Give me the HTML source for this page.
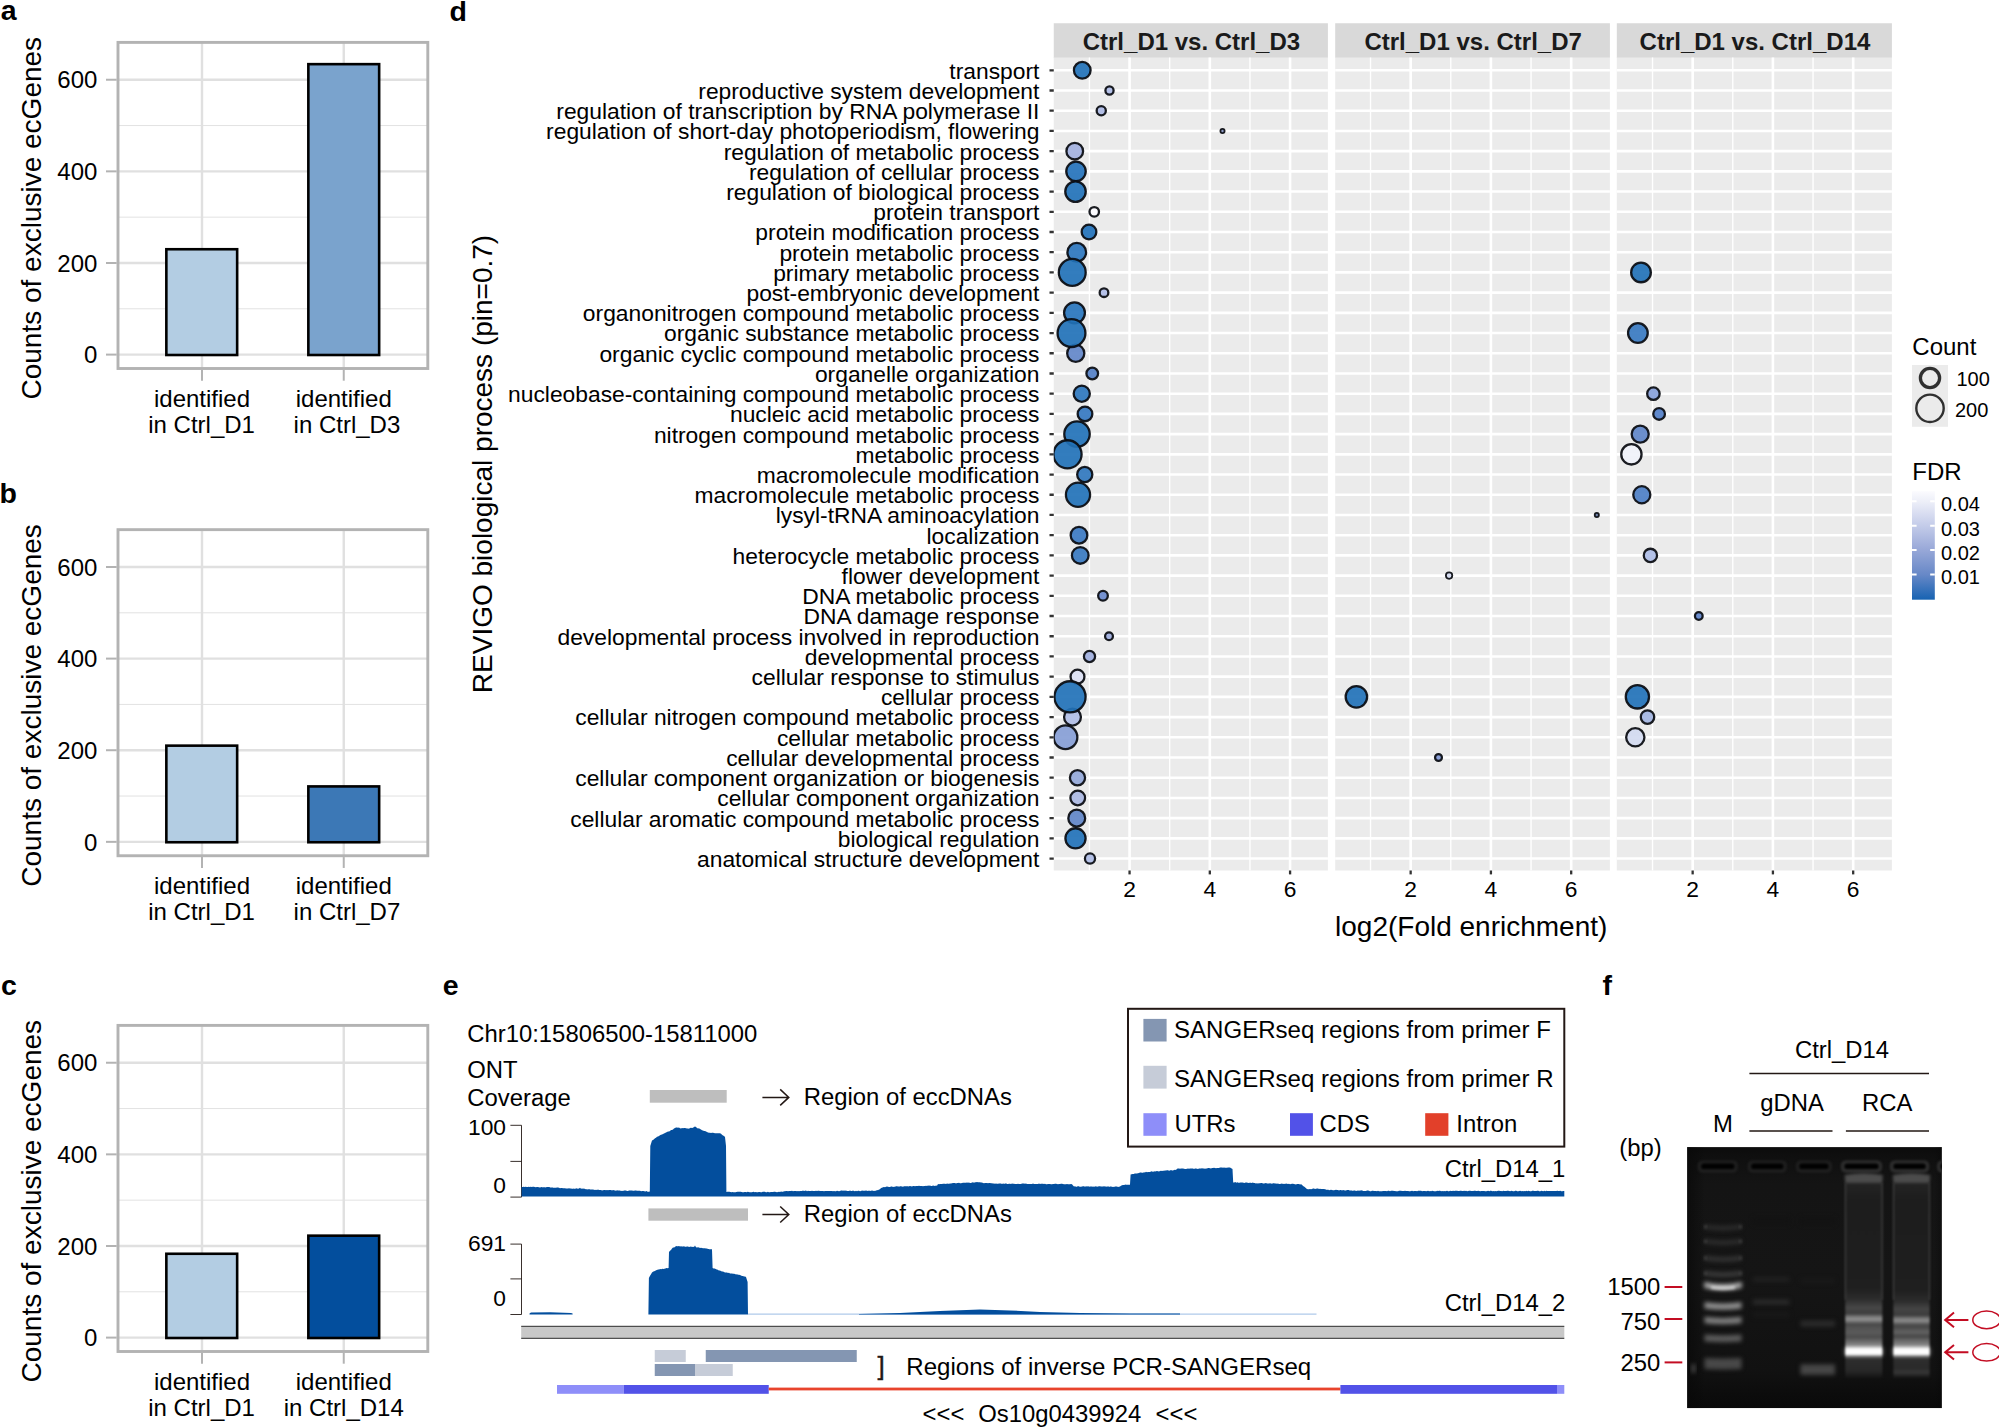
<!DOCTYPE html>
<html lang="en"><head><meta charset="utf-8"><title>Figure</title>
<style>
html,body{margin:0;padding:0;background:#fff;}
body{width:1999px;height:1427px;overflow:hidden;}
svg{display:block;font-family:"Liberation Sans", sans-serif;}
text{fill:#000;}
.pl{font-weight:bold;font-size:28.5px;}
.tk{font-size:24px;}
.at{font-size:28px;}
.yl{font-size:22.82px;}
.xt{font-size:22.8px;}
.st{font-size:24px;font-weight:bold;fill:#1a1a1a;}
.lt{font-size:24px;}
.ll{font-size:20px;}
.e{font-size:23.85px;}
.et{font-size:22.8px;}
.e2{font-size:24.05px;}
</style></head><body>
<svg width="1999" height="1427" viewBox="0 0 1999 1427">
<defs>
<linearGradient id="fdr" x1="0" y1="0" x2="0" y2="1">
<stop offset="0" stop-color="#fbfbfe"/><stop offset="0.1" stop-color="#eceef8"/><stop offset="0.32" stop-color="#c3cbe9"/><stop offset="0.54" stop-color="#98a8d8"/><stop offset="0.77" stop-color="#6788c7"/><stop offset="1" stop-color="#1763b2"/>
</linearGradient>
<filter color-interpolation-filters="sRGB" id="b1" x="-20%" y="-100%" width="140%" height="300%"><feGaussianBlur stdDeviation="1.1"/></filter>
<filter color-interpolation-filters="sRGB" id="b15" x="-20%" y="-100%" width="140%" height="300%"><feGaussianBlur stdDeviation="1.5"/></filter>
<filter color-interpolation-filters="sRGB" id="b2" x="-20%" y="-100%" width="140%" height="300%"><feGaussianBlur stdDeviation="2"/></filter>
<filter color-interpolation-filters="sRGB" id="b3" x="-30%" y="-30%" width="160%" height="160%"><feGaussianBlur stdDeviation="4"/></filter>
<filter color-interpolation-filters="sRGB" id="b4" x="-30%" y="-30%" width="160%" height="160%"><feGaussianBlur stdDeviation="8"/></filter>
<linearGradient id="gelbg" x1="0" y1="0" x2="0" y2="1">
<stop offset="0" stop-color="#0c0c0c"/><stop offset="0.05" stop-color="#101010"/><stop offset="0.14" stop-color="#141414"/><stop offset="0.5" stop-color="#151515"/><stop offset="0.86" stop-color="#111111"/><stop offset="0.95" stop-color="#0c0c0c"/><stop offset="1" stop-color="#0a0a0a"/>
</linearGradient>
<linearGradient id="gelbg2" x1="0" y1="0" x2="1" y2="0">
<stop offset="0" stop-color="#080808" stop-opacity="0.7"/><stop offset="0.07" stop-color="#080808" stop-opacity="0"/><stop offset="0.97" stop-color="#080808" stop-opacity="0"/><stop offset="1" stop-color="#080808" stop-opacity="0.4"/>
</linearGradient>
<clipPath id="cp1"><rect x="1053.75" y="57.6" width="274.15" height="812.9"/></clipPath>
<clipPath id="cp2"><rect x="1335.2" y="57.6" width="274.7" height="812.9"/></clipPath>
<clipPath id="cp3"><rect x="1616.8" y="57.6" width="275.1" height="812.9"/></clipPath>
<clipPath id="gel"><rect x="1687.1" y="1147.1" width="254.8" height="261.1"/></clipPath>
</defs>
<rect width="1999" height="1427" fill="#fff"/>

<text class="pl" x="0.8" y="20.4">a</text>
<text class="pl" x="-0.6" y="502.6">b</text>
<text class="pl" x="0.9" y="995.2">c</text>
<text class="pl" x="449.6" y="20.8">d</text>
<text class="pl" x="442.8" y="995.3">e</text>
<text class="pl" x="1602.6" y="995.1">f</text>
<g>
<line x1="118.0" x2="427.8" y1="308.79" y2="308.79" stroke="#e2e2e2" stroke-width="1.0"/>
<line x1="118.0" x2="427.8" y1="217.17" y2="217.17" stroke="#e2e2e2" stroke-width="1.0"/>
<line x1="118.0" x2="427.8" y1="125.55" y2="125.55" stroke="#e2e2e2" stroke-width="1.0"/>
<line x1="118.0" x2="427.8" y1="354.60" y2="354.60" stroke="#e0e0e0" stroke-width="2.4"/>
<line x1="118.0" x2="427.8" y1="262.98" y2="262.98" stroke="#e0e0e0" stroke-width="2.4"/>
<line x1="118.0" x2="427.8" y1="171.36" y2="171.36" stroke="#e0e0e0" stroke-width="2.4"/>
<line x1="118.0" x2="427.8" y1="79.74" y2="79.74" stroke="#e0e0e0" stroke-width="2.4"/>
<line x1="202" x2="202" y1="42.4" y2="368.5" stroke="#e0e0e0" stroke-width="2.4"/>
<line x1="343.75" x2="343.75" y1="42.4" y2="368.5" stroke="#e0e0e0" stroke-width="2.4"/>
<rect x="166.35" y="249.24" width="70.8" height="105.76" fill="#b3cde3" stroke="#000" stroke-width="2.6"/>
<rect x="308.35" y="64.16" width="70.8" height="290.84" fill="#7aa3cd" stroke="#000" stroke-width="2.6"/>
<rect x="118.0" y="42.4" width="309.8" height="326.1" fill="none" stroke="#b3b3b3" stroke-width="2.9"/>
<line x1="106" x2="116.7" y1="354.60" y2="354.60" stroke="#b3b3b3" stroke-width="2.0"/>
<text class="tk" text-anchor="end" x="97.4" y="363.30">0</text>
<line x1="106" x2="116.7" y1="262.98" y2="262.98" stroke="#b3b3b3" stroke-width="2.0"/>
<text class="tk" text-anchor="end" x="97.4" y="271.68">200</text>
<line x1="106" x2="116.7" y1="171.36" y2="171.36" stroke="#b3b3b3" stroke-width="2.0"/>
<text class="tk" text-anchor="end" x="97.4" y="180.06">400</text>
<line x1="106" x2="116.7" y1="79.74" y2="79.74" stroke="#b3b3b3" stroke-width="2.0"/>
<text class="tk" text-anchor="end" x="97.4" y="88.44">600</text>
<line x1="202" x2="202" y1="369.8" y2="380.7" stroke="#b3b3b3" stroke-width="2.0"/>
<text class="tk" text-anchor="middle" x="202" y="407">identified</text>
<text class="tk" text-anchor="middle" x="201.6" y="432.5">in Ctrl_D1</text>
<line x1="343.75" x2="343.75" y1="369.8" y2="380.7" stroke="#b3b3b3" stroke-width="2.0"/>
<text class="tk" text-anchor="middle" x="343.75" y="407">identified</text>
<text class="tk" text-anchor="middle" x="346.95" y="432.5">in Ctrl_D3</text>
<text class="at" text-anchor="middle" transform="translate(40.7,218.2) rotate(-90)">Counts of exclusive ecGenes</text>
</g>
<g>
<line x1="118.0" x2="427.8" y1="796.04" y2="796.04" stroke="#e2e2e2" stroke-width="1.0"/>
<line x1="118.0" x2="427.8" y1="704.42" y2="704.42" stroke="#e2e2e2" stroke-width="1.0"/>
<line x1="118.0" x2="427.8" y1="612.80" y2="612.80" stroke="#e2e2e2" stroke-width="1.0"/>
<line x1="118.0" x2="427.8" y1="841.85" y2="841.85" stroke="#e0e0e0" stroke-width="2.4"/>
<line x1="118.0" x2="427.8" y1="750.23" y2="750.23" stroke="#e0e0e0" stroke-width="2.4"/>
<line x1="118.0" x2="427.8" y1="658.61" y2="658.61" stroke="#e0e0e0" stroke-width="2.4"/>
<line x1="118.0" x2="427.8" y1="566.99" y2="566.99" stroke="#e0e0e0" stroke-width="2.4"/>
<line x1="202" x2="202" y1="529.65" y2="855.75" stroke="#e0e0e0" stroke-width="2.4"/>
<line x1="343.75" x2="343.75" y1="529.65" y2="855.75" stroke="#e0e0e0" stroke-width="2.4"/>
<rect x="166.35" y="745.65" width="70.8" height="96.60" fill="#b3cde3" stroke="#000" stroke-width="2.6"/>
<rect x="308.35" y="786.42" width="70.8" height="55.83" fill="#3c78b6" stroke="#000" stroke-width="2.6"/>
<rect x="118.0" y="529.65" width="309.8" height="326.1" fill="none" stroke="#b3b3b3" stroke-width="2.9"/>
<line x1="106" x2="116.7" y1="841.85" y2="841.85" stroke="#b3b3b3" stroke-width="2.0"/>
<text class="tk" text-anchor="end" x="97.4" y="850.55">0</text>
<line x1="106" x2="116.7" y1="750.23" y2="750.23" stroke="#b3b3b3" stroke-width="2.0"/>
<text class="tk" text-anchor="end" x="97.4" y="758.93">200</text>
<line x1="106" x2="116.7" y1="658.61" y2="658.61" stroke="#b3b3b3" stroke-width="2.0"/>
<text class="tk" text-anchor="end" x="97.4" y="667.31">400</text>
<line x1="106" x2="116.7" y1="566.99" y2="566.99" stroke="#b3b3b3" stroke-width="2.0"/>
<text class="tk" text-anchor="end" x="97.4" y="575.69">600</text>
<line x1="202" x2="202" y1="857.05" y2="867.95" stroke="#b3b3b3" stroke-width="2.0"/>
<text class="tk" text-anchor="middle" x="202" y="894.25">identified</text>
<text class="tk" text-anchor="middle" x="201.6" y="919.75">in Ctrl_D1</text>
<line x1="343.75" x2="343.75" y1="857.05" y2="867.95" stroke="#b3b3b3" stroke-width="2.0"/>
<text class="tk" text-anchor="middle" x="343.75" y="894.25">identified</text>
<text class="tk" text-anchor="middle" x="346.95" y="919.75">in Ctrl_D7</text>
<text class="at" text-anchor="middle" transform="translate(40.7,705.45) rotate(-90)">Counts of exclusive ecGenes</text>
</g>
<g>
<line x1="118.0" x2="427.8" y1="1291.79" y2="1291.79" stroke="#e2e2e2" stroke-width="1.0"/>
<line x1="118.0" x2="427.8" y1="1200.17" y2="1200.17" stroke="#e2e2e2" stroke-width="1.0"/>
<line x1="118.0" x2="427.8" y1="1108.55" y2="1108.55" stroke="#e2e2e2" stroke-width="1.0"/>
<line x1="118.0" x2="427.8" y1="1337.60" y2="1337.60" stroke="#e0e0e0" stroke-width="2.4"/>
<line x1="118.0" x2="427.8" y1="1245.98" y2="1245.98" stroke="#e0e0e0" stroke-width="2.4"/>
<line x1="118.0" x2="427.8" y1="1154.36" y2="1154.36" stroke="#e0e0e0" stroke-width="2.4"/>
<line x1="118.0" x2="427.8" y1="1062.74" y2="1062.74" stroke="#e0e0e0" stroke-width="2.4"/>
<line x1="202" x2="202" y1="1025.4" y2="1351.5" stroke="#e0e0e0" stroke-width="2.4"/>
<line x1="343.75" x2="343.75" y1="1025.4" y2="1351.5" stroke="#e0e0e0" stroke-width="2.4"/>
<rect x="166.35" y="1253.77" width="70.8" height="84.23" fill="#b3cde3" stroke="#000" stroke-width="2.6"/>
<rect x="308.35" y="1235.67" width="70.8" height="102.33" fill="#034e9d" stroke="#000" stroke-width="2.6"/>
<rect x="118.0" y="1025.4" width="309.8" height="326.0999999999999" fill="none" stroke="#b3b3b3" stroke-width="2.9"/>
<line x1="106" x2="116.7" y1="1337.60" y2="1337.60" stroke="#b3b3b3" stroke-width="2.0"/>
<text class="tk" text-anchor="end" x="97.4" y="1346.30">0</text>
<line x1="106" x2="116.7" y1="1245.98" y2="1245.98" stroke="#b3b3b3" stroke-width="2.0"/>
<text class="tk" text-anchor="end" x="97.4" y="1254.68">200</text>
<line x1="106" x2="116.7" y1="1154.36" y2="1154.36" stroke="#b3b3b3" stroke-width="2.0"/>
<text class="tk" text-anchor="end" x="97.4" y="1163.06">400</text>
<line x1="106" x2="116.7" y1="1062.74" y2="1062.74" stroke="#b3b3b3" stroke-width="2.0"/>
<text class="tk" text-anchor="end" x="97.4" y="1071.44">600</text>
<line x1="202" x2="202" y1="1352.8" y2="1363.7" stroke="#b3b3b3" stroke-width="2.0"/>
<text class="tk" text-anchor="middle" x="202" y="1390">identified</text>
<text class="tk" text-anchor="middle" x="201.6" y="1415.5">in Ctrl_D1</text>
<line x1="343.75" x2="343.75" y1="1352.8" y2="1363.7" stroke="#b3b3b3" stroke-width="2.0"/>
<text class="tk" text-anchor="middle" x="343.75" y="1390">identified</text>
<text class="tk" text-anchor="middle" x="343.75" y="1415.5">in Ctrl_D14</text>
<text class="at" text-anchor="middle" transform="translate(40.7,1201.2) rotate(-90)">Counts of exclusive ecGenes</text>
</g>
<rect x="1053.75" y="23.25" width="274.15" height="34.65" fill="#d9d9d9"/>
<rect x="1053.75" y="57.6" width="274.15" height="812.9" fill="#ebebeb"/>
<text class="st" text-anchor="middle" x="1191.42" y="50.3">Ctrl_D1 vs. Ctrl_D3</text>
<path d="M1089.43 57.6V870.5M1169.69 57.6V870.5M1249.95 57.6V870.5" stroke="#fff" stroke-width="1.35" fill="none"/>
<path d="M1129.56 57.6V870.5M1209.82 57.6V870.5M1290.08 57.6V870.5M1053.75 70.30H1327.9M1053.75 90.51H1327.9M1053.75 110.72H1327.9M1053.75 130.94H1327.9M1053.75 151.15H1327.9M1053.75 171.36H1327.9M1053.75 191.57H1327.9M1053.75 211.78H1327.9M1053.75 232.00H1327.9M1053.75 252.21H1327.9M1053.75 272.42H1327.9M1053.75 292.63H1327.9M1053.75 312.84H1327.9M1053.75 333.06H1327.9M1053.75 353.27H1327.9M1053.75 373.48H1327.9M1053.75 393.69H1327.9M1053.75 413.90H1327.9M1053.75 434.12H1327.9M1053.75 454.33H1327.9M1053.75 474.54H1327.9M1053.75 494.75H1327.9M1053.75 514.96H1327.9M1053.75 535.18H1327.9M1053.75 555.39H1327.9M1053.75 575.60H1327.9M1053.75 595.81H1327.9M1053.75 616.02H1327.9M1053.75 636.24H1327.9M1053.75 656.45H1327.9M1053.75 676.66H1327.9M1053.75 696.87H1327.9M1053.75 717.08H1327.9M1053.75 737.30H1327.9M1053.75 757.51H1327.9M1053.75 777.72H1327.9M1053.75 797.93H1327.9M1053.75 818.14H1327.9M1053.75 838.36H1327.9M1053.75 858.57H1327.9" stroke="#fff" stroke-width="2.6" fill="none"/>
<line x1="1129.56" x2="1129.56" y1="870.5" y2="874.4" stroke="#333" stroke-width="2.3"/>
<text class="xt" text-anchor="middle" x="1129.56" y="896.6">2</text>
<line x1="1209.82" x2="1209.82" y1="870.5" y2="874.4" stroke="#333" stroke-width="2.3"/>
<text class="xt" text-anchor="middle" x="1209.82" y="896.6">4</text>
<line x1="1290.08" x2="1290.08" y1="870.5" y2="874.4" stroke="#333" stroke-width="2.3"/>
<text class="xt" text-anchor="middle" x="1290.08" y="896.6">6</text>
<rect x="1335.2" y="23.25" width="274.70" height="34.65" fill="#d9d9d9"/>
<rect x="1335.2" y="57.6" width="274.70" height="812.9" fill="#ebebeb"/>
<text class="st" text-anchor="middle" x="1473.15" y="50.3">Ctrl_D1 vs. Ctrl_D7</text>
<path d="M1370.53 57.6V870.5M1450.79 57.6V870.5M1531.05 57.6V870.5" stroke="#fff" stroke-width="1.35" fill="none"/>
<path d="M1410.66 57.6V870.5M1490.92 57.6V870.5M1571.18 57.6V870.5M1335.2 70.30H1609.9M1335.2 90.51H1609.9M1335.2 110.72H1609.9M1335.2 130.94H1609.9M1335.2 151.15H1609.9M1335.2 171.36H1609.9M1335.2 191.57H1609.9M1335.2 211.78H1609.9M1335.2 232.00H1609.9M1335.2 252.21H1609.9M1335.2 272.42H1609.9M1335.2 292.63H1609.9M1335.2 312.84H1609.9M1335.2 333.06H1609.9M1335.2 353.27H1609.9M1335.2 373.48H1609.9M1335.2 393.69H1609.9M1335.2 413.90H1609.9M1335.2 434.12H1609.9M1335.2 454.33H1609.9M1335.2 474.54H1609.9M1335.2 494.75H1609.9M1335.2 514.96H1609.9M1335.2 535.18H1609.9M1335.2 555.39H1609.9M1335.2 575.60H1609.9M1335.2 595.81H1609.9M1335.2 616.02H1609.9M1335.2 636.24H1609.9M1335.2 656.45H1609.9M1335.2 676.66H1609.9M1335.2 696.87H1609.9M1335.2 717.08H1609.9M1335.2 737.30H1609.9M1335.2 757.51H1609.9M1335.2 777.72H1609.9M1335.2 797.93H1609.9M1335.2 818.14H1609.9M1335.2 838.36H1609.9M1335.2 858.57H1609.9" stroke="#fff" stroke-width="2.6" fill="none"/>
<line x1="1410.66" x2="1410.66" y1="870.5" y2="874.4" stroke="#333" stroke-width="2.3"/>
<text class="xt" text-anchor="middle" x="1410.66" y="896.6">2</text>
<line x1="1490.92" x2="1490.92" y1="870.5" y2="874.4" stroke="#333" stroke-width="2.3"/>
<text class="xt" text-anchor="middle" x="1490.92" y="896.6">4</text>
<line x1="1571.18" x2="1571.18" y1="870.5" y2="874.4" stroke="#333" stroke-width="2.3"/>
<text class="xt" text-anchor="middle" x="1571.18" y="896.6">6</text>
<rect x="1616.8" y="23.25" width="275.10" height="34.65" fill="#d9d9d9"/>
<rect x="1616.8" y="57.6" width="275.10" height="812.9" fill="#ebebeb"/>
<text class="st" text-anchor="middle" x="1754.95" y="50.3">Ctrl_D1 vs. Ctrl_D14</text>
<path d="M1652.53 57.6V870.5M1732.79 57.6V870.5M1813.05 57.6V870.5" stroke="#fff" stroke-width="1.35" fill="none"/>
<path d="M1692.66 57.6V870.5M1772.92 57.6V870.5M1853.18 57.6V870.5M1616.8 70.30H1891.9M1616.8 90.51H1891.9M1616.8 110.72H1891.9M1616.8 130.94H1891.9M1616.8 151.15H1891.9M1616.8 171.36H1891.9M1616.8 191.57H1891.9M1616.8 211.78H1891.9M1616.8 232.00H1891.9M1616.8 252.21H1891.9M1616.8 272.42H1891.9M1616.8 292.63H1891.9M1616.8 312.84H1891.9M1616.8 333.06H1891.9M1616.8 353.27H1891.9M1616.8 373.48H1891.9M1616.8 393.69H1891.9M1616.8 413.90H1891.9M1616.8 434.12H1891.9M1616.8 454.33H1891.9M1616.8 474.54H1891.9M1616.8 494.75H1891.9M1616.8 514.96H1891.9M1616.8 535.18H1891.9M1616.8 555.39H1891.9M1616.8 575.60H1891.9M1616.8 595.81H1891.9M1616.8 616.02H1891.9M1616.8 636.24H1891.9M1616.8 656.45H1891.9M1616.8 676.66H1891.9M1616.8 696.87H1891.9M1616.8 717.08H1891.9M1616.8 737.30H1891.9M1616.8 757.51H1891.9M1616.8 777.72H1891.9M1616.8 797.93H1891.9M1616.8 818.14H1891.9M1616.8 838.36H1891.9M1616.8 858.57H1891.9" stroke="#fff" stroke-width="2.6" fill="none"/>
<line x1="1692.66" x2="1692.66" y1="870.5" y2="874.4" stroke="#333" stroke-width="2.3"/>
<text class="xt" text-anchor="middle" x="1692.66" y="896.6">2</text>
<line x1="1772.92" x2="1772.92" y1="870.5" y2="874.4" stroke="#333" stroke-width="2.3"/>
<text class="xt" text-anchor="middle" x="1772.92" y="896.6">4</text>
<line x1="1853.18" x2="1853.18" y1="870.5" y2="874.4" stroke="#333" stroke-width="2.3"/>
<text class="xt" text-anchor="middle" x="1853.18" y="896.6">6</text>
<text class="yl" text-anchor="end" x="1039.4" y="78.70">transport</text>
<text class="yl" text-anchor="end" x="1039.4" y="98.91">reproductive system development</text>
<text class="yl" text-anchor="end" x="1039.4" y="119.12">regulation of transcription by RNA polymerase II</text>
<text class="yl" text-anchor="end" x="1039.4" y="139.34">regulation of short-day photoperiodism, flowering</text>
<text class="yl" text-anchor="end" x="1039.4" y="159.55">regulation of metabolic process</text>
<text class="yl" text-anchor="end" x="1039.4" y="179.76">regulation of cellular process</text>
<text class="yl" text-anchor="end" x="1039.4" y="199.97">regulation of biological process</text>
<text class="yl" text-anchor="end" x="1039.4" y="220.18">protein transport</text>
<text class="yl" text-anchor="end" x="1039.4" y="240.40">protein modification process</text>
<text class="yl" text-anchor="end" x="1039.4" y="260.61">protein metabolic process</text>
<text class="yl" text-anchor="end" x="1039.4" y="280.82">primary metabolic process</text>
<text class="yl" text-anchor="end" x="1039.4" y="301.03">post-embryonic development</text>
<text class="yl" text-anchor="end" x="1039.4" y="321.24">organonitrogen compound metabolic process</text>
<text class="yl" text-anchor="end" x="1039.4" y="341.46">organic substance metabolic process</text>
<text class="yl" text-anchor="end" x="1039.4" y="361.67">organic cyclic compound metabolic process</text>
<text class="yl" text-anchor="end" x="1039.4" y="381.88">organelle organization</text>
<text class="yl" text-anchor="end" x="1039.4" y="402.09">nucleobase-containing compound metabolic process</text>
<text class="yl" text-anchor="end" x="1039.4" y="422.30">nucleic acid metabolic process</text>
<text class="yl" text-anchor="end" x="1039.4" y="442.52">nitrogen compound metabolic process</text>
<text class="yl" text-anchor="end" x="1039.4" y="462.73">metabolic process</text>
<text class="yl" text-anchor="end" x="1039.4" y="482.94">macromolecule modification</text>
<text class="yl" text-anchor="end" x="1039.4" y="503.15">macromolecule metabolic process</text>
<text class="yl" text-anchor="end" x="1039.4" y="523.36">lysyl-tRNA aminoacylation</text>
<text class="yl" text-anchor="end" x="1039.4" y="543.58">localization</text>
<text class="yl" text-anchor="end" x="1039.4" y="563.79">heterocycle metabolic process</text>
<text class="yl" text-anchor="end" x="1039.4" y="584.00">flower development</text>
<text class="yl" text-anchor="end" x="1039.4" y="604.21">DNA metabolic process</text>
<text class="yl" text-anchor="end" x="1039.4" y="624.42">DNA damage response</text>
<text class="yl" text-anchor="end" x="1039.4" y="644.64">developmental process involved in reproduction</text>
<text class="yl" text-anchor="end" x="1039.4" y="664.85">developmental process</text>
<text class="yl" text-anchor="end" x="1039.4" y="685.06">cellular response to stimulus</text>
<text class="yl" text-anchor="end" x="1039.4" y="705.27">cellular process</text>
<text class="yl" text-anchor="end" x="1039.4" y="725.48">cellular nitrogen compound metabolic process</text>
<text class="yl" text-anchor="end" x="1039.4" y="745.70">cellular metabolic process</text>
<text class="yl" text-anchor="end" x="1039.4" y="765.91">cellular developmental process</text>
<text class="yl" text-anchor="end" x="1039.4" y="786.12">cellular component organization or biogenesis</text>
<text class="yl" text-anchor="end" x="1039.4" y="806.33">cellular component organization</text>
<text class="yl" text-anchor="end" x="1039.4" y="826.54">cellular aromatic compound metabolic process</text>
<text class="yl" text-anchor="end" x="1039.4" y="846.76">biological regulation</text>
<text class="yl" text-anchor="end" x="1039.4" y="866.97">anatomical structure development</text>
<path d="M1049.5 70.30H1053.75M1049.5 90.51H1053.75M1049.5 110.72H1053.75M1049.5 130.94H1053.75M1049.5 151.15H1053.75M1049.5 171.36H1053.75M1049.5 191.57H1053.75M1049.5 211.78H1053.75M1049.5 232.00H1053.75M1049.5 252.21H1053.75M1049.5 272.42H1053.75M1049.5 292.63H1053.75M1049.5 312.84H1053.75M1049.5 333.06H1053.75M1049.5 353.27H1053.75M1049.5 373.48H1053.75M1049.5 393.69H1053.75M1049.5 413.90H1053.75M1049.5 434.12H1053.75M1049.5 454.33H1053.75M1049.5 474.54H1053.75M1049.5 494.75H1053.75M1049.5 514.96H1053.75M1049.5 535.18H1053.75M1049.5 555.39H1053.75M1049.5 575.60H1053.75M1049.5 595.81H1053.75M1049.5 616.02H1053.75M1049.5 636.24H1053.75M1049.5 656.45H1053.75M1049.5 676.66H1053.75M1049.5 696.87H1053.75M1049.5 717.08H1053.75M1049.5 737.30H1053.75M1049.5 757.51H1053.75M1049.5 777.72H1053.75M1049.5 797.93H1053.75M1049.5 818.14H1053.75M1049.5 838.36H1053.75M1049.5 858.57H1053.75" stroke="#333" stroke-width="2.3" fill="none"/>
<text class="at" text-anchor="middle" x="1471.2" y="935.5">log2(Fold enrichment)</text>
<text class="at" text-anchor="middle" transform="translate(492.2,464) rotate(-90)">REVIGO biological process (pin=0.7)</text>
<g clip-path="url(#cp1)">
<circle cx="1222.5" cy="130.94" r="2.10" fill="#8594c1" fill-opacity="0.92" stroke="#0a0c11" stroke-opacity="0.93" stroke-width="1.8"/>
<circle cx="1109" cy="636.24" r="3.95" fill="#9daddd" fill-opacity="0.92" stroke="#0a0c11" stroke-opacity="0.93" stroke-width="2.3"/>
<circle cx="1109.5" cy="90.51" r="4.10" fill="#afbce6" fill-opacity="0.92" stroke="#0a0c11" stroke-opacity="0.93" stroke-width="2.3"/>
<circle cx="1104" cy="292.63" r="4.35" fill="#afbce6" fill-opacity="0.92" stroke="#0a0c11" stroke-opacity="0.93" stroke-width="2.3"/>
<circle cx="1101.25" cy="110.72" r="4.60" fill="#acbae4" fill-opacity="0.92" stroke="#0a0c11" stroke-opacity="0.93" stroke-width="2.3"/>
<circle cx="1094.25" cy="211.78" r="4.75" fill="#fcfcff" fill-opacity="0.92" stroke="#0a0c11" stroke-opacity="0.93" stroke-width="2.3"/>
<circle cx="1103" cy="595.81" r="4.85" fill="#6989cd" fill-opacity="0.92" stroke="#0a0c11" stroke-opacity="0.93" stroke-width="2.3"/>
<circle cx="1090" cy="858.57" r="5.10" fill="#afbde6" fill-opacity="0.92" stroke="#0a0c11" stroke-opacity="0.93" stroke-width="2.3"/>
<circle cx="1089.5" cy="656.45" r="5.60" fill="#a0afde" fill-opacity="0.92" stroke="#0a0c11" stroke-opacity="0.93" stroke-width="2.3"/>
<circle cx="1092.25" cy="373.48" r="5.85" fill="#537fc6" fill-opacity="0.92" stroke="#0a0c11" stroke-opacity="0.93" stroke-width="2.3"/>
<circle cx="1077.5" cy="676.66" r="6.95" fill="#dce1f4" fill-opacity="0.92" stroke="#0a0c11" stroke-opacity="0.93" stroke-width="2.3"/>
<circle cx="1089" cy="232.00" r="7.35" fill="#2272bb" fill-opacity="0.92" stroke="#0a0c11" stroke-opacity="0.93" stroke-width="2.3"/>
<circle cx="1085" cy="413.90" r="7.35" fill="#3578c0" fill-opacity="0.92" stroke="#0a0c11" stroke-opacity="0.93" stroke-width="2.3"/>
<circle cx="1077.75" cy="797.93" r="7.35" fill="#abb9e3" fill-opacity="0.92" stroke="#0a0c11" stroke-opacity="0.93" stroke-width="2.3"/>
<circle cx="1084.75" cy="474.54" r="7.60" fill="#3077be" fill-opacity="0.92" stroke="#0a0c11" stroke-opacity="0.93" stroke-width="2.3"/>
<circle cx="1077.5" cy="777.72" r="7.60" fill="#94a8d9" fill-opacity="0.92" stroke="#0a0c11" stroke-opacity="0.93" stroke-width="2.3"/>
<circle cx="1081.75" cy="393.69" r="8.10" fill="#2e77be" fill-opacity="0.92" stroke="#0a0c11" stroke-opacity="0.93" stroke-width="2.3"/>
<circle cx="1082.25" cy="70.30" r="8.35" fill="#2272b8" fill-opacity="0.92" stroke="#0a0c11" stroke-opacity="0.93" stroke-width="2.3"/>
<circle cx="1074.75" cy="151.15" r="8.35" fill="#a3b1e0" fill-opacity="0.92" stroke="#0a0c11" stroke-opacity="0.93" stroke-width="2.3"/>
<circle cx="1079" cy="535.18" r="8.35" fill="#3c7ac2" fill-opacity="0.92" stroke="#0a0c11" stroke-opacity="0.93" stroke-width="2.3"/>
<circle cx="1080.25" cy="555.39" r="8.35" fill="#3879c1" fill-opacity="0.92" stroke="#0a0c11" stroke-opacity="0.93" stroke-width="2.3"/>
<circle cx="1072.5" cy="717.08" r="8.45" fill="#b1bee6" fill-opacity="0.92" stroke="#0a0c11" stroke-opacity="0.93" stroke-width="2.3"/>
<circle cx="1076.75" cy="818.14" r="8.45" fill="#6185c8" fill-opacity="0.92" stroke="#0a0c11" stroke-opacity="0.93" stroke-width="2.3"/>
<circle cx="1075.75" cy="353.27" r="8.60" fill="#6387c9" fill-opacity="0.92" stroke="#0a0c11" stroke-opacity="0.93" stroke-width="2.3"/>
<circle cx="1076.75" cy="252.21" r="9.35" fill="#2c76be" fill-opacity="0.92" stroke="#0a0c11" stroke-opacity="0.93" stroke-width="2.3"/>
<circle cx="1076" cy="171.36" r="9.75" fill="#2573bc" fill-opacity="0.92" stroke="#0a0c11" stroke-opacity="0.93" stroke-width="2.3"/>
<circle cx="1075.5" cy="838.36" r="10.10" fill="#2272b8" fill-opacity="0.92" stroke="#0a0c11" stroke-opacity="0.93" stroke-width="2.3"/>
<circle cx="1075.5" cy="191.57" r="10.25" fill="#2272b8" fill-opacity="0.92" stroke="#0a0c11" stroke-opacity="0.93" stroke-width="2.3"/>
<circle cx="1074.5" cy="312.84" r="10.45" fill="#2875bd" fill-opacity="0.92" stroke="#0a0c11" stroke-opacity="0.93" stroke-width="2.3"/>
<circle cx="1065.5" cy="737.30" r="11.85" fill="#879ed6" fill-opacity="0.92" stroke="#0a0c11" stroke-opacity="0.93" stroke-width="2.3"/>
<circle cx="1078" cy="494.75" r="12.10" fill="#2272b8" fill-opacity="0.92" stroke="#0a0c11" stroke-opacity="0.93" stroke-width="2.3"/>
<circle cx="1077" cy="434.12" r="12.75" fill="#2272b8" fill-opacity="0.92" stroke="#0a0c11" stroke-opacity="0.93" stroke-width="2.3"/>
<circle cx="1072.25" cy="272.42" r="13.45" fill="#2272b8" fill-opacity="0.92" stroke="#0a0c11" stroke-opacity="0.93" stroke-width="2.3"/>
<circle cx="1071.5" cy="333.06" r="13.95" fill="#2272b8" fill-opacity="0.92" stroke="#0a0c11" stroke-opacity="0.93" stroke-width="2.3"/>
<circle cx="1067.5" cy="454.33" r="14.10" fill="#2272b8" fill-opacity="0.92" stroke="#0a0c11" stroke-opacity="0.93" stroke-width="2.3"/>
<circle cx="1070" cy="696.87" r="15.60" fill="#2272b8" fill-opacity="0.92" stroke="#0a0c11" stroke-opacity="0.93" stroke-width="2.3"/>
</g>
<g clip-path="url(#cp2)">
<circle cx="1596.8" cy="514.96" r="2.10" fill="#6476a0" fill-opacity="0.92" stroke="#0a0c11" stroke-opacity="0.93" stroke-width="1.8"/>
<circle cx="1449.1" cy="575.60" r="3.20" fill="#d6dcf2" fill-opacity="0.92" stroke="#0a0c11" stroke-opacity="0.93" stroke-width="1.8"/>
<circle cx="1438.5" cy="757.51" r="3.45" fill="#8299d6" fill-opacity="0.92" stroke="#0a0c11" stroke-opacity="0.93" stroke-width="2.3"/>
<circle cx="1356.4" cy="696.87" r="10.75" fill="#2272b8" fill-opacity="0.92" stroke="#0a0c11" stroke-opacity="0.93" stroke-width="2.3"/>
</g>
<g clip-path="url(#cp3)">
<circle cx="1698.8" cy="616.02" r="3.85" fill="#5f84cb" fill-opacity="0.92" stroke="#0a0c11" stroke-opacity="0.93" stroke-width="2.3"/>
<circle cx="1659.1" cy="413.90" r="5.85" fill="#537fc8" fill-opacity="0.92" stroke="#0a0c11" stroke-opacity="0.93" stroke-width="2.3"/>
<circle cx="1653.4" cy="393.69" r="6.25" fill="#879fd9" fill-opacity="0.92" stroke="#0a0c11" stroke-opacity="0.93" stroke-width="2.3"/>
<circle cx="1650.4" cy="555.39" r="6.65" fill="#aebde7" fill-opacity="0.92" stroke="#0a0c11" stroke-opacity="0.93" stroke-width="2.3"/>
<circle cx="1647.5" cy="717.08" r="6.75" fill="#a2b4e1" fill-opacity="0.92" stroke="#0a0c11" stroke-opacity="0.93" stroke-width="2.3"/>
<circle cx="1640.2" cy="434.12" r="8.55" fill="#5f85c8" fill-opacity="0.92" stroke="#0a0c11" stroke-opacity="0.93" stroke-width="2.3"/>
<circle cx="1641.8" cy="494.75" r="8.55" fill="#4d7fc6" fill-opacity="0.92" stroke="#0a0c11" stroke-opacity="0.93" stroke-width="2.3"/>
<circle cx="1635.3" cy="737.30" r="9.15" fill="#d3daf0" fill-opacity="0.92" stroke="#0a0c11" stroke-opacity="0.93" stroke-width="2.3"/>
<circle cx="1641" cy="272.42" r="9.85" fill="#2272b8" fill-opacity="0.92" stroke="#0a0c11" stroke-opacity="0.93" stroke-width="2.3"/>
<circle cx="1637.9" cy="333.06" r="9.85" fill="#3879c1" fill-opacity="0.92" stroke="#0a0c11" stroke-opacity="0.93" stroke-width="2.3"/>
<circle cx="1631.4" cy="454.33" r="10.15" fill="#f0f2fa" fill-opacity="0.92" stroke="#0a0c11" stroke-opacity="0.93" stroke-width="2.3"/>
<circle cx="1637.4" cy="696.87" r="11.65" fill="#2272b8" fill-opacity="0.92" stroke="#0a0c11" stroke-opacity="0.93" stroke-width="2.3"/>
</g>
<text class="lt" x="1912.3" y="354.8">Count</text>
<rect x="1912" y="365" width="36" height="61.8" fill="#ebebeb"/>
<circle cx="1930" cy="378" r="9.6" fill="none" stroke="#303030" stroke-width="3.3"/>
<circle cx="1930" cy="408.3" r="13.7" fill="none" stroke="#303030" stroke-width="2.4"/>
<text class="ll" x="1956.4" y="386">100</text>
<text class="ll" x="1955" y="417.1">200</text>
<text class="lt" x="1912.3" y="479.7">FDR</text>
<rect x="1912" y="491.2" width="22.8" height="108.5" fill="url(#fdr)"/>
<path d="M1912 501.3h4.6M1934.8 501.3h-4.6" stroke="#fff" stroke-width="1.9" fill="none"/>
<text class="ll" x="1941" y="511.2">0.04</text>
<path d="M1912 525.7h4.6M1934.8 525.7h-4.6" stroke="#fff" stroke-width="1.9" fill="none"/>
<text class="ll" x="1941" y="535.6">0.03</text>
<path d="M1912 550.0h4.6M1934.8 550.0h-4.6" stroke="#fff" stroke-width="1.9" fill="none"/>
<text class="ll" x="1941" y="559.9">0.02</text>
<path d="M1912 574.5h4.6M1934.8 574.5h-4.6" stroke="#fff" stroke-width="1.9" fill="none"/>
<text class="ll" x="1941" y="584.4">0.01</text>
<text class="e" x="467.3" y="1041.8">Chr10:15806500-15811000</text>
<text class="e" x="467.3" y="1077.8">ONT</text>
<text class="e" x="467.3" y="1105.7">Coverage</text>
<rect x="649.8" y="1090" width="76.9" height="12.7" fill="#bebebe"/>
<path d="M762.4 1097.4H788.4M780.2 1089.4L788.8 1097.4L780.2 1105.4" stroke="#231815" stroke-width="1.5" fill="none"/>
<text class="e" x="803.8" y="1104.8">Region of eccDNAs</text>
<rect x="648.4" y="1208.4" width="99.6" height="12.3" fill="#bebebe"/>
<path d="M762.4 1214.5H788.4M780.2 1206.5L788.8 1214.5L780.2 1222.5" stroke="#231815" stroke-width="1.5" fill="none"/>
<text class="e" x="803.8" y="1221.9">Region of eccDNAs</text>
<path d="M510.4 1125.3H521.5V1197.1H510.4M510.4 1161.4H521.5" stroke="#231815" stroke-width="0.9" fill="none"/>
<path d="M510.4 1244.1H521.5V1314.5H510.4M510.4 1278.9H521.5" stroke="#231815" stroke-width="0.9" fill="none"/>
<text class="et" text-anchor="end" x="506" y="1135">100</text>
<text class="et" text-anchor="end" x="506" y="1193.2">0</text>
<text class="et" text-anchor="end" x="506" y="1250.8">691</text>
<text class="et" text-anchor="end" x="506" y="1306.2">0</text>
<path d="M521.6 1196.6L521.6 1187.0L522.6 1186.9L523.6 1186.8L524.6 1187.1L525.7 1186.7L526.7 1187.1L527.7 1187.0L528.7 1186.7L529.7 1187.1L530.8 1186.8L531.8 1187.0L532.8 1186.8L533.8 1186.8L534.8 1187.1L535.8 1187.3L536.9 1186.9L537.9 1186.9L538.9 1187.2L539.9 1187.5L540.9 1187.2L541.9 1187.1L543.0 1187.5L544.0 1186.9L545.0 1187.4L546.0 1187.2L547.0 1187.1L548.0 1187.1L549.0 1187.1L550.0 1187.3L551.0 1187.7L552.0 1187.3L553.0 1187.7L554.0 1187.8L555.0 1187.7L556.0 1187.8L557.0 1187.6L558.0 1187.6L559.0 1187.8L560.0 1188.2L561.0 1188.0L562.0 1188.0L563.0 1188.3L564.0 1188.2L565.0 1188.2L566.0 1188.4L567.0 1188.6L568.0 1188.6L569.0 1188.3L570.0 1188.5L571.0 1188.5L572.0 1188.8L573.0 1188.7L574.0 1188.4L575.0 1188.9L576.0 1188.3L577.0 1188.5L578.0 1188.8L579.0 1188.6L580.0 1187.8L581.0 1188.7L582.0 1188.5L583.0 1188.8L584.0 1188.6L585.0 1189.1L586.0 1189.2L587.0 1189.2L588.0 1189.4L589.0 1189.1L590.0 1189.5L591.0 1189.5L592.0 1189.5L593.0 1189.5L594.0 1189.8L595.0 1190.0L596.0 1189.7L597.0 1189.9L598.0 1189.6L599.0 1190.1L600.0 1190.0L601.0 1190.1L602.0 1190.4L603.0 1190.3L604.0 1190.0L605.0 1190.1L606.0 1190.3L607.0 1189.9L608.0 1190.2L609.0 1190.0L610.0 1190.0L611.0 1190.0L612.0 1190.5L613.0 1190.1L614.0 1190.2L615.0 1190.4L616.0 1190.7L617.0 1190.2L618.0 1190.5L619.0 1190.6L620.0 1190.6L621.0 1190.9L622.0 1190.8L623.0 1190.9L624.0 1190.5L625.0 1190.6L626.0 1190.6L627.0 1190.9L628.0 1191.0L629.0 1190.4L630.0 1190.5L631.0 1190.5L632.0 1190.5L633.0 1190.7L634.0 1190.8L635.0 1190.6L636.0 1190.4L637.0 1190.7L638.0 1190.7L639.0 1190.8L640.0 1190.8L641.1 1191.2L642.2 1191.1L643.3 1191.1L644.4 1191.2L645.4 1191.4L646.5 1191.0L647.6 1191.7L648.7 1191.7L649.8 1191.6L650.3 1146.0L652.0 1140.4L653.0 1140.0L654.0 1139.3L655.0 1138.3L656.0 1137.7L657.0 1136.8L658.0 1136.4L659.0 1136.0L660.0 1135.2L661.0 1134.7L662.0 1134.4L663.0 1133.9L664.0 1133.6L665.0 1132.9L666.0 1132.5L667.0 1132.1L668.0 1131.6L669.0 1131.4L670.0 1131.0L671.0 1130.1L672.0 1130.1L673.0 1129.4L674.0 1128.5L675.0 1128.0L676.0 1127.6L677.0 1127.6L678.0 1127.7L679.0 1127.6L680.0 1128.2L681.0 1128.4L682.0 1128.1L683.0 1128.2L684.0 1128.0L685.0 1128.1L686.0 1128.3L687.0 1128.4L688.0 1128.6L689.0 1128.7L690.0 1128.1L691.0 1127.8L692.0 1128.0L693.0 1127.8L694.0 1127.0L695.0 1126.4L696.0 1127.0L697.0 1128.0L698.0 1128.4L699.0 1128.3L700.0 1129.0L701.0 1129.5L702.0 1130.2L703.0 1130.6L704.0 1130.9L705.0 1131.1L706.0 1131.6L707.0 1131.9L708.0 1132.6L709.0 1132.8L710.0 1132.7L711.0 1132.9L712.0 1132.7L713.0 1132.7L714.0 1133.1L715.0 1133.3L716.0 1133.2L717.0 1133.3L718.0 1133.3L719.0 1133.3L720.0 1133.2L721.0 1133.8L722.0 1134.7L723.0 1135.4L724.0 1135.9L725.0 1137.0L726.0 1146.0L726.4 1192.0L727.4 1191.7L728.4 1191.8L729.4 1191.8L730.4 1192.1L731.5 1192.3L732.5 1192.0L733.5 1192.3L734.5 1192.3L735.5 1192.3L736.5 1191.9L737.5 1191.8L738.5 1191.8L739.6 1191.8L740.6 1191.8L741.6 1192.1L742.6 1192.3L743.6 1192.2L744.6 1192.0L745.6 1192.1L746.6 1192.2L747.7 1191.7L748.7 1192.1L749.7 1192.3L750.7 1192.2L751.7 1192.2L752.7 1192.0L753.7 1191.8L754.7 1192.2L755.8 1191.9L756.8 1192.2L757.8 1192.3L758.8 1191.9L759.8 1191.9L760.8 1192.3L761.8 1192.2L762.8 1191.8L763.9 1191.7L764.9 1191.8L765.9 1192.3L766.9 1192.2L767.9 1191.8L768.9 1192.2L769.9 1192.3L770.9 1192.1L772.0 1191.9L773.0 1192.0L774.0 1191.7L775.0 1191.7L776.0 1192.0L777.0 1192.3L778.0 1192.0L779.0 1191.8L780.0 1192.0L781.0 1191.6L782.0 1191.8L783.0 1191.7L784.0 1191.2L785.0 1191.2L786.0 1191.1L787.0 1191.0L788.0 1191.2L789.0 1190.9L790.0 1191.0L791.0 1190.9L792.0 1190.7L793.0 1191.3L794.0 1190.9L795.0 1191.0L796.0 1191.0L797.0 1191.3L798.0 1190.9L799.0 1191.3L800.0 1191.0L801.0 1191.0L802.0 1191.0L803.0 1190.6L804.0 1190.9L805.0 1190.7L806.0 1190.6L807.0 1191.2L808.0 1190.7L809.0 1190.9L810.0 1191.1L811.0 1191.0L812.0 1190.8L813.0 1191.0L814.0 1191.0L815.0 1191.1L816.0 1190.7L817.0 1191.0L818.0 1190.8L819.0 1190.8L820.0 1191.1L821.0 1190.9L822.0 1191.0L823.0 1191.1L824.0 1191.2L825.0 1190.9L826.0 1191.0L827.0 1190.9L828.0 1190.9L829.0 1191.0L830.0 1190.9L831.0 1190.9L832.0 1190.9L833.0 1191.2L834.0 1191.0L835.0 1191.2L836.0 1191.2L837.0 1190.7L838.0 1190.9L839.0 1191.2L840.0 1191.1L841.0 1190.6L842.0 1190.6L843.0 1190.8L844.0 1190.6L845.0 1190.7L846.0 1190.6L847.0 1191.0L848.0 1191.1L849.0 1191.1L850.0 1190.6L851.0 1191.0L852.0 1191.0L853.0 1190.6L854.0 1191.1L855.0 1191.2L856.0 1190.7L857.0 1191.2L858.0 1190.8L859.0 1190.8L860.0 1191.2L861.0 1191.1L862.0 1190.6L863.0 1190.8L864.0 1190.8L865.0 1190.7L866.0 1190.6L867.0 1190.7L868.0 1191.0L869.0 1190.5L870.0 1190.9L871.0 1190.8L872.0 1190.5L873.0 1190.7L874.0 1190.9L875.0 1190.8L876.0 1190.8L877.0 1190.0L878.0 1190.2L879.0 1189.6L880.0 1189.2L881.0 1188.1L882.0 1187.8L883.0 1187.2L884.0 1187.0L885.0 1187.2L886.0 1186.8L887.0 1186.6L888.0 1186.8L889.0 1187.1L890.0 1187.0L891.0 1186.6L892.0 1186.5L893.0 1187.0L894.0 1186.7L895.0 1186.7L896.0 1186.3L897.0 1186.2L898.0 1186.6L899.0 1186.4L900.0 1186.4L901.0 1186.1L902.0 1186.7L903.0 1186.4L904.0 1186.5L905.0 1186.0L906.0 1186.6L907.0 1186.0L908.0 1186.5L909.0 1186.2L910.0 1186.1L911.0 1186.3L912.0 1186.5L913.0 1186.0L914.0 1185.9L915.0 1186.2L916.0 1186.0L917.0 1185.9L918.0 1185.9L919.0 1185.8L920.0 1185.9L921.0 1185.9L922.0 1185.9L923.0 1186.2L924.0 1185.9L925.0 1186.0L926.0 1185.8L927.0 1185.9L928.0 1185.6L929.0 1185.8L930.0 1185.6L931.0 1186.1L932.0 1185.9L933.0 1185.6L934.0 1185.8L935.0 1186.1L936.0 1185.5L937.0 1185.8L938.0 1184.0L939.0 1184.2L940.0 1183.9L941.0 1183.9L942.0 1184.1L943.0 1183.7L944.0 1183.7L945.0 1183.8L946.0 1184.0L947.0 1183.5L948.0 1183.8L949.0 1183.7L950.0 1183.6L951.0 1183.4L952.0 1183.3L953.0 1183.0L954.0 1183.1L955.0 1183.0L956.0 1183.4L957.0 1183.0L958.0 1182.9L959.0 1182.8L960.0 1183.3L961.0 1183.3L962.0 1183.1L963.0 1182.8L964.0 1182.7L965.0 1182.7L966.0 1182.8L967.0 1182.5L968.0 1182.7L969.0 1182.5L970.0 1183.0L971.0 1182.9L972.0 1182.6L973.0 1182.3L974.0 1182.8L975.0 1182.3L976.0 1182.3L977.0 1182.0L978.0 1182.2L979.0 1182.2L980.0 1182.2L981.0 1182.5L982.0 1182.5L983.0 1183.0L984.0 1183.2L985.0 1182.9L986.0 1183.1L987.0 1183.0L988.0 1183.2L989.0 1183.0L990.0 1183.0L991.0 1183.2L992.0 1183.2L993.0 1183.5L994.0 1183.5L995.0 1183.7L996.0 1183.6L997.0 1183.7L998.0 1183.8L999.0 1183.5L1000.0 1183.6L1001.0 1183.5L1002.0 1184.0L1003.0 1183.4L1004.0 1183.8L1005.0 1183.7L1006.0 1183.3L1007.0 1183.9L1008.0 1183.9L1009.0 1183.8L1010.0 1183.8L1011.0 1183.9L1012.0 1183.4L1013.0 1183.7L1014.0 1183.7L1015.0 1184.0L1016.0 1183.9L1017.0 1184.0L1018.0 1183.8L1019.0 1184.0L1020.0 1183.9L1021.0 1183.9L1022.0 1183.6L1023.0 1183.5L1024.0 1183.5L1025.0 1183.7L1026.0 1183.5L1027.0 1184.1L1028.0 1183.9L1029.0 1183.9L1030.0 1183.9L1031.0 1184.0L1032.0 1183.9L1033.0 1183.5L1034.0 1184.1L1035.0 1184.1L1036.0 1183.9L1037.0 1183.9L1038.0 1184.0L1039.0 1183.6L1040.0 1184.1L1041.0 1183.8L1042.0 1183.7L1043.0 1183.8L1044.0 1184.1L1045.0 1183.8L1046.0 1184.2L1047.0 1184.3L1048.0 1184.0L1049.0 1183.9L1050.0 1184.0L1051.0 1184.2L1052.0 1184.2L1053.0 1184.1L1054.0 1184.1L1055.0 1183.8L1056.0 1183.8L1057.0 1183.9L1058.0 1184.3L1059.0 1184.0L1060.0 1184.1L1061.0 1183.8L1062.0 1183.8L1063.0 1184.0L1064.0 1184.3L1065.0 1184.3L1066.0 1184.3L1067.0 1184.0L1068.0 1184.2L1069.0 1184.2L1070.0 1184.2L1071.0 1183.9L1072.0 1184.2L1073.0 1185.6L1074.0 1186.4L1075.0 1186.2L1076.0 1186.7L1077.0 1186.7L1078.0 1186.1L1079.0 1186.4L1080.0 1186.7L1081.0 1186.8L1082.0 1186.4L1083.0 1186.3L1084.0 1186.2L1085.0 1186.8L1086.0 1186.2L1087.0 1186.5L1088.0 1186.2L1089.0 1186.5L1090.0 1186.8L1091.0 1186.2L1092.0 1186.7L1093.0 1186.5L1094.0 1186.8L1095.0 1186.6L1096.0 1186.3L1097.0 1186.8L1098.0 1186.5L1099.0 1186.2L1100.0 1186.2L1101.0 1186.5L1102.0 1186.5L1103.0 1186.4L1104.0 1186.3L1105.0 1186.4L1106.0 1186.4L1107.0 1186.8L1108.0 1186.2L1109.0 1186.7L1110.0 1186.8L1111.0 1186.3L1112.0 1186.9L1113.0 1186.7L1114.0 1186.9L1115.0 1186.4L1116.0 1186.5L1117.0 1186.5L1118.0 1186.9L1119.0 1186.7L1120.0 1186.6L1121.0 1185.8L1122.0 1185.2L1123.0 1185.1L1124.0 1184.9L1125.0 1184.7L1126.0 1184.6L1127.0 1185.1L1128.0 1184.6L1129.0 1185.0L1130.0 1184.6L1130.6 1174.6L1131.6 1174.2L1132.7 1174.0L1133.7 1173.9L1134.8 1173.5L1135.8 1173.4L1136.9 1173.6L1137.9 1173.3L1139.0 1173.0L1140.0 1172.6L1141.0 1172.6L1142.0 1172.7L1143.0 1172.7L1144.0 1172.3L1145.0 1172.4L1146.0 1171.8L1147.0 1172.2L1148.0 1171.9L1149.0 1172.1L1150.0 1171.9L1151.0 1171.6L1152.0 1171.3L1153.0 1171.9L1154.0 1171.2L1155.0 1171.4L1156.0 1171.2L1157.0 1171.1L1158.0 1171.3L1159.0 1171.4L1160.0 1171.0L1161.0 1170.8L1162.0 1171.0L1163.0 1170.7L1164.0 1170.8L1165.0 1170.6L1166.0 1170.4L1167.0 1170.3L1168.0 1170.3L1169.0 1170.7L1170.0 1170.4L1171.0 1170.1L1172.0 1170.5L1173.0 1170.5L1174.0 1170.1L1175.0 1169.8L1176.0 1170.0L1177.0 1168.8L1178.0 1168.6L1179.0 1168.5L1180.0 1168.7L1181.0 1168.5L1182.0 1168.6L1183.0 1168.6L1184.0 1168.8L1185.0 1169.0L1186.0 1168.9L1187.0 1168.7L1188.0 1168.6L1189.0 1168.7L1190.0 1168.6L1191.0 1168.6L1192.0 1168.4L1193.0 1168.5L1194.0 1169.0L1195.0 1168.4L1196.0 1168.6L1197.0 1168.7L1198.0 1168.9L1199.0 1168.4L1200.0 1168.6L1201.0 1168.4L1202.0 1168.3L1203.0 1168.4L1204.0 1168.4L1205.0 1168.7L1206.0 1168.6L1207.0 1168.6L1208.0 1167.9L1209.0 1167.9L1210.0 1168.3L1211.0 1168.4L1212.0 1168.1L1213.0 1168.1L1214.0 1167.7L1215.0 1167.9L1216.0 1168.2L1217.0 1168.1L1218.0 1168.1L1219.0 1168.1L1220.0 1167.6L1221.0 1167.5L1222.0 1167.4L1223.0 1167.7L1224.0 1167.6L1225.0 1167.7L1226.0 1167.8L1227.0 1167.7L1228.0 1167.6L1229.0 1167.6L1230.0 1167.4L1231.2 1168.2L1232.5 1169.0L1233.2 1182.4L1234.2 1182.5L1235.3 1182.1L1236.3 1182.7L1237.3 1182.3L1238.4 1182.8L1239.4 1182.7L1240.4 1182.5L1241.4 1182.4L1242.5 1182.5L1243.5 1182.8L1244.5 1182.9L1245.6 1182.5L1246.6 1182.5L1247.6 1182.8L1248.7 1182.9L1249.7 1182.8L1250.7 1182.7L1251.8 1183.0L1252.8 1182.6L1253.8 1182.9L1254.8 1183.0L1255.9 1183.4L1256.9 1183.2L1257.9 1183.4L1259.0 1183.2L1260.0 1183.2L1261.0 1183.0L1262.0 1183.1L1263.0 1183.6L1264.0 1183.4L1265.0 1183.2L1266.0 1183.0L1267.0 1183.4L1268.0 1183.5L1269.0 1183.4L1270.0 1183.3L1271.0 1183.6L1272.0 1183.8L1273.0 1183.3L1274.0 1183.2L1275.0 1183.5L1276.0 1183.5L1277.0 1183.7L1278.0 1183.4L1279.0 1183.9L1280.0 1183.9L1281.0 1183.7L1282.0 1183.5L1283.0 1184.1L1284.0 1183.7L1285.0 1184.0L1286.0 1183.6L1287.0 1183.7L1288.0 1184.1L1289.0 1183.8L1290.0 1184.2L1291.0 1184.0L1292.0 1183.8L1293.0 1183.8L1294.0 1184.0L1295.0 1184.2L1296.0 1184.4L1297.0 1183.9L1298.0 1184.1L1299.0 1184.0L1300.0 1184.5L1301.0 1184.2L1302.0 1184.8L1303.0 1186.0L1304.0 1186.4L1305.0 1187.2L1306.0 1188.2L1307.0 1189.0L1308.0 1189.2L1309.0 1189.2L1310.0 1189.0L1311.0 1189.2L1312.0 1189.1L1313.0 1188.6L1314.0 1188.5L1315.0 1189.0L1316.0 1188.8L1317.0 1188.6L1318.0 1188.4L1319.0 1188.9L1320.0 1188.8L1321.0 1188.9L1322.0 1189.0L1323.0 1189.0L1324.0 1189.0L1325.0 1189.3L1326.0 1189.5L1327.0 1190.0L1328.0 1189.5L1329.0 1190.2L1330.0 1190.0L1331.0 1189.8L1332.0 1189.9L1333.0 1190.3L1334.0 1190.3L1335.0 1190.1L1336.0 1189.8L1337.0 1190.1L1338.0 1190.1L1339.0 1190.5L1340.0 1190.0L1341.0 1190.1L1342.0 1190.5L1343.0 1190.0L1344.0 1190.2L1345.0 1190.5L1346.0 1190.5L1347.0 1190.0L1348.0 1190.1L1349.0 1190.1L1350.0 1190.7L1351.0 1190.3L1352.0 1190.7L1353.0 1190.8L1354.0 1190.4L1355.0 1190.4L1356.0 1190.9L1357.0 1190.7L1358.0 1190.4L1359.0 1190.8L1360.0 1190.5L1361.0 1190.5L1362.0 1190.3L1363.0 1190.9L1364.0 1191.0L1365.0 1190.9L1366.0 1191.1L1367.0 1190.5L1368.0 1190.6L1369.0 1190.8L1370.0 1191.2L1371.0 1191.2L1372.0 1190.8L1373.0 1190.8L1374.0 1190.9L1375.0 1191.0L1376.0 1191.0L1377.0 1191.3L1378.0 1190.8L1379.0 1191.2L1380.0 1191.2L1381.0 1191.2L1382.0 1191.2L1383.0 1191.1L1384.0 1190.9L1385.0 1190.9L1386.0 1190.9L1387.0 1191.2L1388.0 1190.7L1389.0 1190.8L1390.0 1191.2L1391.0 1190.8L1392.0 1190.7L1393.0 1190.7L1394.0 1191.0L1395.0 1190.9L1396.0 1191.3L1397.0 1191.3L1398.0 1191.3L1399.0 1190.8L1400.0 1190.7L1401.0 1190.7L1402.0 1191.0L1403.0 1191.1L1404.0 1191.0L1405.0 1190.8L1406.0 1190.9L1407.0 1191.1L1408.1 1191.1L1409.1 1191.2L1410.1 1191.2L1411.1 1191.1L1412.1 1190.7L1413.1 1191.2L1414.1 1190.9L1415.1 1191.0L1416.1 1190.9L1417.1 1191.2L1418.1 1190.8L1419.1 1190.8L1420.1 1190.8L1421.1 1190.8L1422.1 1191.3L1423.1 1191.1L1424.1 1190.9L1425.1 1190.9L1426.1 1191.3L1427.1 1191.0L1428.1 1190.8L1429.1 1191.2L1430.1 1191.1L1431.1 1191.3L1432.1 1190.7L1433.1 1191.0L1434.1 1191.2L1435.1 1191.2L1436.1 1191.3L1437.1 1190.7L1438.1 1190.9L1439.1 1190.7L1440.1 1190.8L1441.1 1191.3L1442.1 1191.1L1443.1 1191.3L1444.1 1190.9L1445.1 1191.3L1446.1 1191.0L1447.1 1190.8L1448.1 1191.2L1449.1 1191.3L1450.1 1190.7L1451.1 1191.1L1452.1 1191.1L1453.1 1190.8L1454.1 1190.9L1455.1 1190.7L1456.1 1190.8L1457.1 1190.8L1458.1 1191.1L1459.1 1191.1L1460.1 1190.8L1461.1 1190.7L1462.1 1190.9L1463.1 1191.1L1464.1 1190.8L1465.1 1190.9L1466.1 1190.8L1467.1 1191.2L1468.1 1191.0L1469.1 1190.7L1470.2 1190.7L1471.2 1190.9L1472.2 1191.0L1473.2 1191.1L1474.2 1190.7L1475.2 1190.8L1476.2 1191.1L1477.2 1190.9L1478.2 1190.8L1479.2 1190.9L1480.2 1191.3L1481.2 1190.9L1482.2 1191.0L1483.2 1190.9L1484.2 1190.9L1485.2 1191.3L1486.2 1191.3L1487.2 1190.9L1488.2 1190.8L1489.2 1191.2L1490.2 1190.8L1491.2 1190.7L1492.2 1191.3L1493.2 1190.9L1494.2 1191.2L1495.2 1190.9L1496.2 1191.3L1497.2 1191.0L1498.2 1190.8L1499.2 1190.7L1500.2 1191.0L1501.2 1191.1L1502.2 1191.3L1503.2 1190.7L1504.2 1191.1L1505.2 1190.9L1506.2 1191.0L1507.2 1190.8L1508.2 1190.8L1509.2 1191.0L1510.2 1191.3L1511.2 1190.7L1512.2 1191.0L1513.2 1191.2L1514.2 1191.3L1515.2 1190.8L1516.2 1190.7L1517.2 1191.3L1518.2 1191.3L1519.2 1191.0L1520.2 1190.7L1521.2 1191.3L1522.2 1190.9L1523.2 1191.3L1524.2 1191.1L1525.2 1191.2L1526.2 1190.8L1527.2 1191.2L1528.2 1190.8L1529.2 1190.9L1530.2 1191.2L1531.2 1191.2L1532.2 1190.8L1533.3 1190.8L1534.3 1190.9L1535.3 1191.0L1536.3 1190.9L1537.3 1190.7L1538.3 1190.8L1539.3 1191.2L1540.3 1191.3L1541.3 1190.7L1542.3 1191.0L1543.3 1191.2L1544.3 1190.7L1545.3 1191.2L1546.3 1190.7L1547.3 1191.1L1548.3 1191.0L1549.3 1191.1L1550.3 1190.9L1551.3 1190.9L1552.3 1191.1L1553.3 1190.9L1554.3 1191.1L1555.3 1191.0L1556.3 1191.0L1557.3 1190.7L1558.3 1191.1L1559.3 1191.0L1560.3 1190.8L1561.3 1191.2L1562.3 1191.2L1563.3 1191.0L1564.3 1191.0L1564.3 1196.6Z" fill="#034e9d"/>
<path d="M748 1314.1H1316.5" stroke="#4a86cf" stroke-width="0.55" fill="none"/>
<path d="M529.5 1314.4L529.5 1313.6L531.0 1312.4L550.0 1312.2L571.0 1313.0L572.6 1313.6L572.6 1314.4Z" fill="#034e9d"/>
<path d="M648.4 1314.4L648.4 1314.0L648.9 1278.0L649.9 1275.9L651.0 1274.3L652.0 1272.4L653.0 1271.7L654.0 1271.2L655.0 1271.0L656.0 1270.3L657.0 1270.0L658.0 1269.6L659.1 1269.4L660.1 1269.0L661.2 1269.2L662.2 1268.7L663.3 1268.9L664.4 1268.8L665.4 1268.5L666.5 1268.1L667.5 1268.2L668.6 1268.0L669.0 1252.0L670.0 1250.7L671.0 1249.9L672.0 1248.4L673.0 1247.6L674.0 1247.4L675.0 1246.9L676.0 1246.0L677.0 1246.2L678.0 1246.3L679.0 1246.0L680.0 1246.5L681.0 1246.3L682.0 1246.6L683.0 1246.6L684.0 1246.3L685.0 1246.7L686.0 1246.8L687.0 1246.4L688.0 1246.6L689.0 1246.9L690.0 1246.8L691.0 1246.6L692.0 1247.1L693.0 1246.8L694.0 1247.0L695.0 1245.6L696.0 1247.2L697.0 1247.5L698.0 1247.3L699.0 1247.6L700.0 1248.0L701.0 1247.7L702.0 1247.9L703.0 1248.2L704.0 1248.2L705.0 1248.2L706.0 1248.4L707.0 1248.5L708.0 1249.1L709.0 1249.1L710.0 1249.4L711.0 1249.1L712.0 1249.4L712.6 1268.0L713.6 1268.5L714.7 1268.5L715.7 1269.1L716.7 1269.5L717.8 1269.7L718.8 1270.4L719.9 1270.6L720.9 1271.0L721.9 1271.5L723.0 1271.4L724.0 1272.0L725.0 1272.5L726.0 1272.5L727.0 1272.5L728.0 1272.9L729.0 1272.8L730.0 1273.4L731.0 1273.4L732.0 1273.4L733.0 1273.8L734.0 1273.8L735.0 1273.9L736.0 1274.4L737.0 1274.2L738.0 1274.8L739.0 1274.7L740.0 1275.0L741.0 1275.4L742.0 1276.0L743.0 1276.1L744.0 1276.4L745.0 1276.6L746.0 1277.0L747.6 1282.0L748.0 1314.0L748.0 1314.4Z" fill="#034e9d"/>
<path d="M859.0 1314.4L859.0 1314.0L900.0 1313.0L940.0 1311.0L980.0 1309.6L1010.0 1310.4L1040.0 1312.0L1080.0 1313.0L1130.0 1313.4L1180.0 1313.6L1180.0 1314.4Z" fill="#034e9d"/>
<text class="e" text-anchor="end" x="1565.3" y="1176.7">Ctrl_D14_1</text>
<text class="e" text-anchor="end" x="1565.3" y="1310.9">Ctrl_D14_2</text>
<rect x="521.2" y="1326.3" width="1043.1" height="12" fill="#c8c8c8"/>
<path d="M521.2 1326.3H1564.3M521.2 1338.3H1564.3" stroke="#2b2b2b" stroke-width="1" fill="none"/>
<rect x="654.75" y="1350" width="31" height="12" fill="#c6ccd8"/>
<rect x="705.75" y="1350" width="151" height="12" fill="#8496b2"/>
<rect x="654.75" y="1364" width="40.25" height="12" fill="#8496b2"/>
<rect x="695" y="1364" width="37.75" height="12" fill="#c6ccd8"/>
<text class="e" x="877.6" y="1374.9" style="fill:#231815;font-size:26px;stroke:#231815;stroke-width:0.4px">]</text>
<text class="e2" x="906.3" y="1375">Regions of inverse PCR-SANGERseq</text>
<rect x="557" y="1385" width="66.75" height="8.8" fill="#8e8ef9"/>
<rect x="623.75" y="1385" width="145" height="8.8" fill="#5252e8"/>
<rect x="768.75" y="1387.6" width="571.7" height="2.8" fill="#e8442d"/>
<rect x="1340.4" y="1385" width="216.6" height="8.8" fill="#5252e8"/>
<rect x="1557" y="1385" width="7.3" height="8.8" fill="#8e8ef9"/>
<text class="e" x="922.6" y="1422">&lt;&lt;&lt;</text>
<text class="e" x="978.2" y="1422">Os10g0439924</text>
<text class="e" x="1155.6" y="1422">&lt;&lt;&lt;</text>
<rect x="1128" y="1008.8" width="436.3" height="137.8" fill="#fff" stroke="#231815" stroke-width="2"/>
<rect x="1143.4" y="1018.9" width="23.2" height="22.6" fill="#8496b2"/>
<text class="e2" x="1174" y="1037.9">SANGERseq regions from primer F</text>
<rect x="1143.4" y="1065.8" width="23.2" height="22.8" fill="#c6ccd8"/>
<text class="e2" x="1174" y="1086.7">SANGERseq regions from primer R</text>
<rect x="1143.4" y="1113.2" width="23.2" height="22.6" fill="#8e8ef9"/>
<text class="e" x="1174.5" y="1132">UTRs</text>
<rect x="1290" y="1113.2" width="22.9" height="22.6" fill="#5252e8"/>
<text class="e" x="1319.6" y="1132">CDS</text>
<rect x="1425.2" y="1113.2" width="23.2" height="22.6" fill="#e2402a"/>
<text class="e" x="1456.3" y="1132">Intron</text>
<text class="e" text-anchor="middle" x="1842" y="1057.5">Ctrl_D14</text>
<path d="M1749.4 1073.5H1929M1749.4 1131.1H1832.5M1845.9 1131.1H1929" stroke="#231815" stroke-width="1.5" fill="none"/>
<text class="e" text-anchor="middle" x="1792" y="1110.5">gDNA</text>
<text class="e" text-anchor="middle" x="1887.2" y="1110.5">RCA</text>
<text class="e" text-anchor="middle" x="1723" y="1132">M</text>
<text class="e" x="1619.3" y="1156.2">(bp)</text>
<text class="e" text-anchor="end" x="1660.3" y="1295.1">1500</text>
<line x1="1664.6" x2="1682.3" y1="1287" y2="1287" stroke="#c30d23" stroke-width="2"/>
<text class="e" text-anchor="end" x="1660.3" y="1329.8">750</text>
<line x1="1664.6" x2="1682.3" y1="1319" y2="1319" stroke="#c30d23" stroke-width="2"/>
<text class="e" text-anchor="end" x="1660.3" y="1370.7">250</text>
<line x1="1664.6" x2="1682.3" y1="1362.4" y2="1362.4" stroke="#c30d23" stroke-width="2"/>
<path d="M1945.6 1319.9H1968.4M1954 1312.6000000000001L1945.2 1319.9L1954 1327.2" stroke="#c30d23" stroke-width="2" fill="none"/>
<ellipse cx="1986.6" cy="1319.9" rx="13.8" ry="8.8" fill="none" stroke="#c30d23" stroke-width="1.5"/>
<path d="M1945.6 1352.3H1968.4M1954 1345.0L1945.2 1352.3L1954 1359.6" stroke="#c30d23" stroke-width="2" fill="none"/>
<ellipse cx="1986.6" cy="1352.3" rx="13.8" ry="8.8" fill="none" stroke="#c30d23" stroke-width="1.5"/>
<defs><linearGradient id="ln4" gradientUnits="userSpaceOnUse" x1="0" y1="1182.0" x2="0" y2="1378.0"><stop offset="0.0000" stop-color="#242424"/><stop offset="0.0918" stop-color="#1d1d1d"/><stop offset="0.5408" stop-color="#1f1f1f"/><stop offset="0.5969" stop-color="#2c2c2c"/><stop offset="0.6403" stop-color="#474747"/><stop offset="0.6709" stop-color="#3e3e3e"/><stop offset="0.6888" stop-color="#7c7c7c"/><stop offset="0.7015" stop-color="#909090"/><stop offset="0.7143" stop-color="#6a6a6a"/><stop offset="0.7270" stop-color="#484848"/><stop offset="0.7449" stop-color="#545454"/><stop offset="0.7704" stop-color="#5a5a5a"/><stop offset="0.7908" stop-color="#4c4c4c"/><stop offset="0.8112" stop-color="#686868"/><stop offset="0.8316" stop-color="#858585"/><stop offset="0.8449" stop-color="#c4c4c4"/><stop offset="0.8531" stop-color="#ffffff"/><stop offset="0.8776" stop-color="#ffffff"/><stop offset="0.8878" stop-color="#707070"/><stop offset="0.9031" stop-color="#2e2e2e"/><stop offset="0.9643" stop-color="#282828"/><stop offset="1.0000" stop-color="#131313"/></linearGradient></defs>
<defs><linearGradient id="ln5" gradientUnits="userSpaceOnUse" x1="0" y1="1182.0" x2="0" y2="1378.0"><stop offset="0.0000" stop-color="#242424"/><stop offset="0.0918" stop-color="#1d1d1d"/><stop offset="0.5510" stop-color="#1f1f1f"/><stop offset="0.6071" stop-color="#2c2c2c"/><stop offset="0.6480" stop-color="#454545"/><stop offset="0.6786" stop-color="#3c3c3c"/><stop offset="0.6964" stop-color="#787878"/><stop offset="0.7092" stop-color="#8c8c8c"/><stop offset="0.7219" stop-color="#606060"/><stop offset="0.7347" stop-color="#454545"/><stop offset="0.7500" stop-color="#525252"/><stop offset="0.7653" stop-color="#626262"/><stop offset="0.7883" stop-color="#484848"/><stop offset="0.8112" stop-color="#6c6c6c"/><stop offset="0.8316" stop-color="#858585"/><stop offset="0.8449" stop-color="#c4c4c4"/><stop offset="0.8531" stop-color="#ffffff"/><stop offset="0.8776" stop-color="#ffffff"/><stop offset="0.8878" stop-color="#707070"/><stop offset="0.9031" stop-color="#2e2e2e"/><stop offset="0.9490" stop-color="#2a2a2a"/><stop offset="0.9719" stop-color="#363636"/><stop offset="1.0000" stop-color="#131313"/></linearGradient></defs>
<g clip-path="url(#gel)">
<rect x="1687.1" y="1147.1" width="254.8" height="261.1" fill="url(#gelbg)"/>
<rect x="1687.1" y="1147.1" width="254.8" height="261.1" fill="url(#gelbg2)"/>
<rect x="1697.7" y="1160.4" width="40.2" height="12.4" rx="5" fill="#1f1f1f" filter="url(#b1)"/>
<rect x="1701.2" y="1163.6" width="33.2" height="5.4" rx="2.6" fill="#010101" filter="url(#b1)"/>
<rect x="1747.7" y="1160.4" width="39.2" height="12.4" rx="5" fill="#1f1f1f" filter="url(#b1)"/>
<rect x="1751.2" y="1163.6" width="32.2" height="5.4" rx="2.6" fill="#010101" filter="url(#b1)"/>
<rect x="1795.8" y="1160.4" width="36.2" height="12.4" rx="5" fill="#1f1f1f" filter="url(#b1)"/>
<rect x="1799.3" y="1163.6" width="29.2" height="5.4" rx="2.6" fill="#010101" filter="url(#b1)"/>
<rect x="1840.9" y="1160.4" width="41.2" height="12.4" rx="5" fill="#2e2e2e" filter="url(#b1)"/>
<rect x="1844.4" y="1163.6" width="34.2" height="5.4" rx="2.6" fill="#010101" filter="url(#b1)"/>
<rect x="1889.9" y="1160.4" width="39.3" height="12.4" rx="5" fill="#2e2e2e" filter="url(#b1)"/>
<rect x="1893.4" y="1163.6" width="32.3" height="5.4" rx="2.6" fill="#010101" filter="url(#b1)"/>
<rect x="1937" y="1160.4" width="15.0" height="12.4" rx="5" fill="#2e2e2e" filter="url(#b1)"/>
<rect x="1940.5" y="1163.6" width="8.0" height="5.4" rx="2.6" fill="#010101" filter="url(#b1)"/>
<path d="M1704.5 1224.4Q1723.0 1227.3 1741.5 1224.4L1741.5 1229.0Q1723.0 1231.9 1704.5 1229.0Z" fill="#2c2c2c" opacity="1" filter="url(#b2)"/>
<circle cx="1705.6" cy="1226.7" r="1.5" fill="#484848" filter="url(#b15)"/><circle cx="1740.4" cy="1226.7" r="1.5" fill="#484848" filter="url(#b15)"/>
<path d="M1704.5 1239.0Q1723.0 1241.9 1741.5 1239.0L1741.5 1243.6Q1723.0 1246.5 1704.5 1243.6Z" fill="#2e2e2e" opacity="1" filter="url(#b2)"/>
<circle cx="1705.6" cy="1241.3" r="1.5" fill="#484848" filter="url(#b15)"/><circle cx="1740.4" cy="1241.3" r="1.5" fill="#484848" filter="url(#b15)"/>
<path d="M1704.5 1255.6Q1723.0 1258.5 1741.5 1255.6L1741.5 1260.4Q1723.0 1263.3 1704.5 1260.4Z" fill="#333333" opacity="1" filter="url(#b2)"/>
<circle cx="1705.6" cy="1258.0" r="1.5" fill="#484848" filter="url(#b15)"/><circle cx="1740.4" cy="1258.0" r="1.5" fill="#484848" filter="url(#b15)"/>
<path d="M1704.5 1270.7Q1723.0 1273.6 1741.5 1270.7L1741.5 1275.7Q1723.0 1278.6 1704.5 1275.7Z" fill="#3a3a3a" opacity="1" filter="url(#b2)"/>
<circle cx="1705.6" cy="1273.2" r="1.5" fill="#484848" filter="url(#b15)"/><circle cx="1740.4" cy="1273.2" r="1.5" fill="#484848" filter="url(#b15)"/>
<path d="M1704.5 1302.0Q1723.0 1304.9 1741.5 1302.0L1741.5 1308.4Q1723.0 1311.3 1704.5 1308.4Z" fill="#8e8e8e" opacity="1" filter="url(#b2)"/>
<path d="M1704.5 1316.8Q1723.0 1319.0 1741.5 1316.8L1741.5 1323.2Q1723.0 1325.4 1704.5 1323.2Z" fill="#7e7e7e" opacity="1" filter="url(#b2)"/>
<path d="M1704.5 1334.4Q1723.0 1336.0 1741.5 1334.4L1741.5 1341.4Q1723.0 1343.0 1704.5 1341.4Z" fill="#5a5a5a" opacity="1" filter="url(#b2)"/>
<path d="M1704.5 1358.0Q1723.0 1358.9 1741.5 1358.0L1741.5 1369.0Q1723.0 1369.9 1704.5 1369.0Z" fill="#484848" opacity="1" filter="url(#b2)"/>
<path d="M1704.2 1281.7Q1723.0 1286.4 1741.8 1281.7L1741.8 1287.9Q1723.0 1292.6 1704.2 1287.9Z" fill="#a8a8a8" opacity="1" filter="url(#b2)"/>
<path d="M1711 1285.9Q1723.0 1287.7 1735 1285.9L1735 1288.5Q1723.0 1290.3 1711 1288.5Z" fill="#f0f0f0" opacity="0.8" filter="url(#b15)"/>
<rect x="1753" y="1217.5" width="36.5" height="7" fill="#131313" opacity="1" filter="url(#b2)"/>
<rect x="1753" y="1276.9" width="36.5" height="5" fill="#202020" opacity="1" filter="url(#b2)"/>
<rect x="1753" y="1299.3" width="36.5" height="5.5" fill="#292929" opacity="1" filter="url(#b2)"/>
<rect x="1753" y="1311.7" width="36.5" height="6" fill="#181818" opacity="1" filter="url(#b2)"/>
<rect x="1800.5" y="1217.5" width="34.5" height="7" fill="#131313" opacity="1" filter="url(#b2)"/>
<rect x="1800.5" y="1278.2" width="34.5" height="5" fill="#191919" opacity="1" filter="url(#b2)"/>
<rect x="1800.5" y="1320.6" width="34.5" height="6" fill="#2b2b2b" opacity="1" filter="url(#b2)"/>
<rect x="1800.5" y="1364.3" width="34.5" height="10.5" fill="#464646" opacity="1" filter="url(#b2)"/>
<rect x="1845.2" y="1182" width="37.2" height="196" fill="url(#ln4)" filter="url(#b1)"/>
<path d="M1844.7 1175Q1863.8000000000002 1171.5 1882.9 1175L1882.4 1183H1845.2Z" fill="#4c4c4c" filter="url(#b15)"/>
<path d="M1845.5 1183V1300M1882.1000000000001 1183V1300" stroke="#404040" stroke-width="1.3" filter="url(#b1)" fill="none"/>
<rect x="1844.2" y="1347.6" width="39.2" height="8" fill="#fff" opacity="0.3" filter="url(#b2)"/>
<rect x="1893.3" y="1182" width="36.4" height="196" fill="url(#ln5)" filter="url(#b1)"/>
<path d="M1892.8 1175Q1911.5 1171.5 1930.2 1175L1929.7 1183H1893.3Z" fill="#4c4c4c" filter="url(#b15)"/>
<path d="M1893.6 1183V1300M1929.4 1183V1300" stroke="#404040" stroke-width="1.3" filter="url(#b1)" fill="none"/>
<rect x="1892.3" y="1347.6" width="38.4" height="8" fill="#fff" opacity="0.3" filter="url(#b2)"/>
<rect x="1691" y="1364" width="5" height="9" fill="#3a3a3a" filter="url(#b2)"/>
</g>
</svg></body></html>
